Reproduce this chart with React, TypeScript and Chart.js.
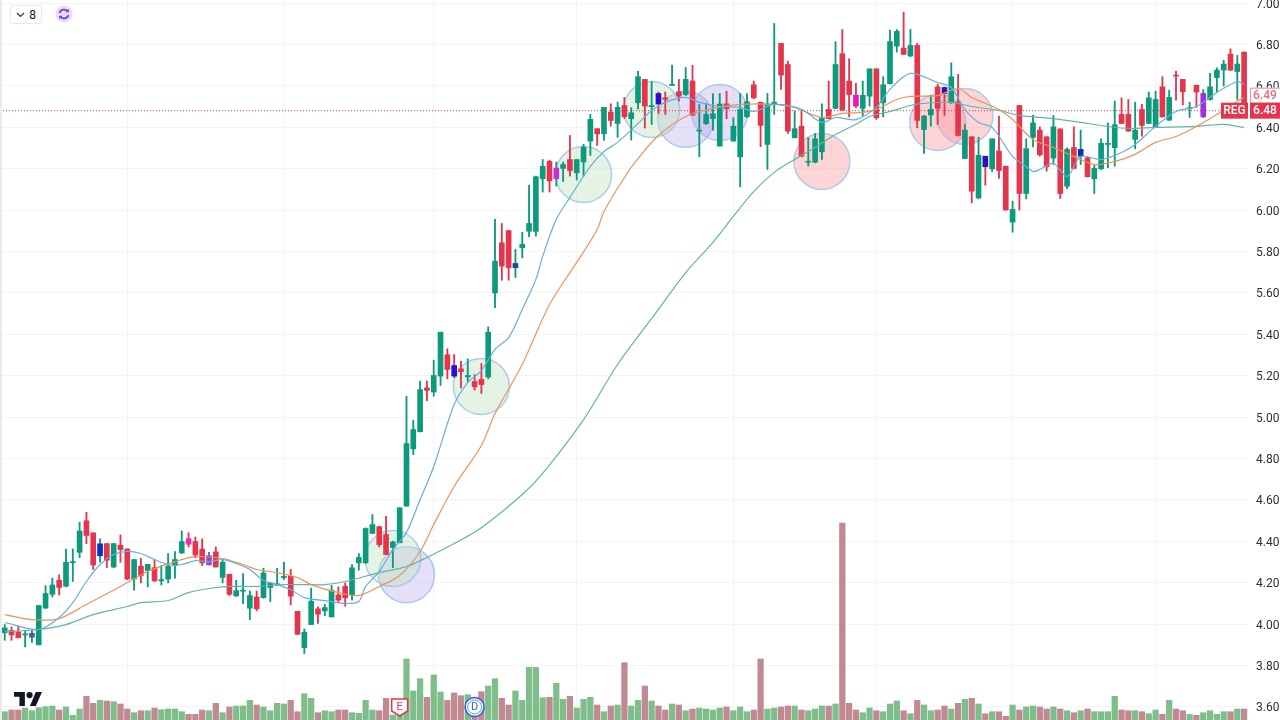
import React, { useEffect, useRef } from 'react';
import { Chart, registerables } from 'chart.js';

Chart.register(...registerables);

// Daily candles
const opens = [
  3.958, 3.970, 3.961, 3.948, 3.937, 3.900, 4.077, 4.144, 4.212, 4.183,
  4.297, 4.347, 4.499, 4.441, 4.330, 4.389, 4.276, 4.381, 4.363, 4.218,
  4.280, 4.259, 4.273, 4.209, 4.218, 4.283, 4.344, 4.413, 4.399, 4.362,
  4.286, 4.349, 4.226, 4.241, 4.136, 4.159, 4.077, 4.131, 4.128, 4.177,
  4.190, 4.225, 4.231, 4.062, 3.887, 3.998, 4.074, 4.064, 4.035, 4.141,
  4.183, 4.141, 4.296, 4.296, 4.438, 4.471, 4.433, 4.370, 4.393, 4.570,
  4.847, 4.929, 5.141, 5.121, 5.198, 5.301, 5.249, 5.233, 5.194, 5.172,
  5.182, 5.194, 5.600, 5.842, 5.901, 5.722, 5.818, 5.898, 5.897, 6.151,
  6.235, 6.151, 6.201, 6.244, 6.180, 6.232, 6.333, 6.393, 6.368, 6.473,
  6.418, 6.505, 6.441, 6.518, 6.631, 6.499, 6.563, 6.542, 6.602, 6.571,
  6.558, 6.623, 6.381, 6.417, 6.442, 6.309, 6.513, 6.333, 6.257, 6.451,
  6.605, 6.521, 6.317, 6.510, 6.805, 6.703, 6.349, 6.405, 6.231, 6.231,
  6.281, 6.486, 6.491, 6.755, 6.623, 6.554, 6.491, 6.550, 6.682, 6.518,
  6.610, 6.792, 6.782, 6.744, 6.795, 6.389, 6.459, 6.595, 6.592, 6.518,
  6.521, 6.249, 6.354, 6.058, 6.260, 6.199, 6.285, 6.212, 5.942, 6.505,
  6.080, 6.351, 6.386, 6.354, 6.251, 6.392, 6.115, 6.302, 6.260, 6.252,
  6.151, 6.199, 6.317, 6.301, 6.462, 6.462, 6.341, 6.486, 6.418, 6.402,
  6.595, 6.434, 6.650, 6.631, 6.489, 6.603, 6.450, 6.534, 6.640, 6.676,
  6.753, 6.669, 6.763,
];
const closes = [
  3.982, 3.948, 3.935, 3.953, 3.956, 4.090, 4.148, 4.189, 4.177, 4.299,
  4.302, 4.450, 4.428, 4.286, 4.388, 4.309, 4.389, 4.360, 4.218, 4.312,
  4.235, 4.289, 4.209, 4.215, 4.280, 4.312, 4.399, 4.386, 4.334, 4.296,
  4.331, 4.276, 4.299, 4.144, 4.162, 4.164, 4.138, 4.074, 4.247, 4.199,
  4.193, 4.231, 4.135, 3.951, 3.961, 4.111, 4.048, 4.080, 4.164, 4.116,
  4.127, 4.272, 4.322, 4.462, 4.481, 4.384, 4.336, 4.397, 4.562, 4.872,
  4.940, 5.133, 5.129, 5.201, 5.410, 5.230, 5.198, 5.220, 5.201, 5.146,
  5.157, 5.410, 5.753, 5.729, 5.721, 5.742, 5.834, 5.935, 6.161, 6.211,
  6.141, 6.203, 6.220, 6.191, 6.244, 6.304, 6.438, 6.368, 6.496, 6.433,
  6.496, 6.451, 6.470, 6.644, 6.502, 6.505, 6.512, 6.534, 6.607, 6.550,
  6.631, 6.458, 6.386, 6.462, 6.465, 6.512, 6.489, 6.405, 6.486, 6.523,
  6.542, 6.409, 6.513, 6.521, 6.652, 6.381, 6.393, 6.260, 6.235, 6.344,
  6.446, 6.441, 6.703, 6.483, 6.558, 6.502, 6.554, 6.682, 6.446, 6.605,
  6.814, 6.863, 6.752, 6.795, 6.433, 6.454, 6.486, 6.491, 6.562, 6.644,
  6.360, 6.386, 6.091, 6.264, 6.209, 6.344, 6.191, 6.000, 6.003, 6.080,
  6.296, 6.421, 6.267, 6.209, 6.402, 6.080, 6.293, 6.201, 6.293, 6.161,
  6.201, 6.322, 6.322, 6.412, 6.418, 6.381, 6.386, 6.409, 6.542, 6.534,
  6.450, 6.544, 6.647, 6.571, 6.494, 6.570, 6.563, 6.595, 6.676, 6.705,
  6.676, 6.705, 6.480,
];
const highs = [
  3.998, 3.987, 3.990, 3.966, 3.970, 4.090, 4.186, 4.222, 4.238, 4.363,
  4.363, 4.492, 4.540, 4.441, 4.412, 4.389, 4.389, 4.431, 4.363, 4.312,
  4.318, 4.289, 4.309, 4.283, 4.341, 4.350, 4.450, 4.441, 4.421, 4.412,
  4.347, 4.373, 4.312, 4.241, 4.212, 4.244, 4.160, 4.160, 4.270, 4.199,
  4.270, 4.299, 4.264, 4.062, 3.977, 4.174, 4.083, 4.096, 4.187, 4.180,
  4.199, 4.288, 4.341, 4.465, 4.529, 4.473, 4.521, 4.401, 4.562, 5.101,
  4.985, 5.174, 5.174, 5.275, 5.410, 5.330, 5.302, 5.270, 5.281, 5.206,
  5.259, 5.436, 5.955, 5.935, 5.901, 5.810, 5.893, 6.120, 6.164, 6.244,
  6.241, 6.232, 6.232, 6.360, 6.244, 6.318, 6.462, 6.393, 6.496, 6.513,
  6.521, 6.544, 6.494, 6.670, 6.631, 6.621, 6.570, 6.570, 6.700, 6.631,
  6.689, 6.699, 6.510, 6.515, 6.563, 6.563, 6.574, 6.446, 6.563, 6.563,
  6.623, 6.521, 6.563, 6.901, 6.805, 6.719, 6.478, 6.486, 6.349, 6.370,
  6.513, 6.623, 6.813, 6.872, 6.731, 6.612, 6.623, 6.682, 6.682, 6.644,
  6.869, 6.872, 6.956, 6.872, 6.805, 6.457, 6.554, 6.607, 6.595, 6.711,
  6.655, 6.413, 6.354, 6.352, 6.260, 6.344, 6.454, 6.212, 6.043, 6.505,
  6.344, 6.457, 6.402, 6.354, 6.457, 6.392, 6.301, 6.402, 6.386, 6.256,
  6.215, 6.344, 6.421, 6.526, 6.542, 6.534, 6.521, 6.510, 6.570, 6.574,
  6.644, 6.579, 6.671, 6.631, 6.521, 6.603, 6.582, 6.660, 6.687, 6.724,
  6.779, 6.747, 6.763,
];
const lows = [
  3.922, 3.922, 3.933, 3.890, 3.912, 3.900, 4.077, 4.131, 4.141, 4.180,
  4.206, 4.321, 4.389, 4.264, 4.299, 4.273, 4.273, 4.299, 4.215, 4.164,
  4.199, 4.180, 4.206, 4.189, 4.199, 4.222, 4.341, 4.373, 4.321, 4.283,
  4.286, 4.276, 4.199, 4.138, 4.135, 4.099, 4.022, 4.064, 4.125, 4.109,
  4.186, 4.215, 4.093, 3.950, 3.858, 3.998, 4.003, 4.041, 4.035, 4.103,
  4.087, 4.116, 4.261, 4.293, 4.438, 4.373, 4.336, 4.273, 4.393, 4.570,
  4.819, 4.929, 5.079, 5.101, 5.153, 5.185, 5.190, 5.141, 5.169, 5.130,
  5.114, 5.185, 5.529, 5.661, 5.661, 5.674, 5.769, 5.871, 5.874, 6.087,
  6.087, 6.116, 6.138, 6.164, 6.145, 6.164, 6.264, 6.312, 6.338, 6.405,
  6.351, 6.441, 6.338, 6.489, 6.396, 6.413, 6.466, 6.462, 6.602, 6.526,
  6.553, 6.458, 6.257, 6.413, 6.386, 6.309, 6.441, 6.333, 6.112, 6.446,
  6.537, 6.306, 6.196, 6.462, 6.583, 6.370, 6.349, 6.257, 6.212, 6.228,
  6.244, 6.441, 6.489, 6.481, 6.450, 6.494, 6.454, 6.502, 6.438, 6.450,
  6.608, 6.763, 6.750, 6.740, 6.397, 6.273, 6.405, 6.413, 6.457, 6.515,
  6.357, 6.249, 6.035, 6.054, 6.120, 6.186, 6.153, 6.000, 5.893, 6.000,
  6.054, 6.305, 6.260, 6.188, 6.220, 6.056, 6.103, 6.199, 6.220, 6.159,
  6.080, 6.196, 6.204, 6.212, 6.418, 6.380, 6.296, 6.357, 6.417, 6.399,
  6.449, 6.433, 6.531, 6.508, 6.447, 6.496, 6.447, 6.531, 6.571, 6.599,
  6.673, 6.534, 6.480,
];

const volumes = [
  8.3, 10, 10, 12, 9.3, 12.3, 13.3, 14, 10, 13, 4.7, 11, 23.7, 16.7, 19.7, 19,
  18.3, 16, 11, 7.3, 9.3, 9.3, 12, 10.3, 11, 11, 8.3, 5.7, 5.7, 10, 9.3, 16.7,
  7.3, 13, 14, 14, 19.7, 15, 13, 9.3, 16.7, 16, 19.7, 8.3, 26.3, 21.7, 7.3,
  9.3, 8.3, 10, 10, 7.3, 6.7, 19.7, 10, 9.3, 21.7, 5, 15, 61, 29, 41.3, 22.7,
  45, 28, 19.7, 27, 24.3, 25.3, 15.7, 28.3, 34, 41.3, 21.7, 15, 29, 19.7, 52.7,
  52.7, 22.3, 22.7, 36.7, 20.7, 23.7, 12, 20.7, 22.7, 15, 8.3, 14, 15, 57.3, 14, 19.7,
  34, 19, 14, 10, 16, 15, 9.3, 11, 12, 11, 10, 12, 13, 9.3, 13, 8.3, 10, 61,
  11, 12, 13, 14, 14, 10, 9.3, 11, 14, 14, 16, 197, 16.7, 10, 7.3, 12, 9.3, 8.3,
  16, 19, 9.3, 6.3, 19.7, 15, 9.3, 10, 14, 11, 16.7,
  20.7, 21.7, 16, 6.3, 8.3, 8.3, 3.7, 15, 10, 13, 14, 13, 11, 13, 11, 9.3, 7.3,
  9.3, 11, 8.3, 8.3, 8.3, 23.7, 10, 9.3, 9.3, 8.3, 6.3, 10, 5.7, 19.7, 11, 9.3,
  5.7, 4.7, 7.3, 9.3, 5.7, 8.3, 8.3, 11, 11,
];

// Moving averages: [candle, value]
const fastMa = [
  [0, 4.008], [5, 3.974], [8, 4.032], [10, 4.104], [12, 4.206], [14, 4.288], [16, 4.336], [18, 4.351],
  [20, 4.341], [22, 4.312], [24, 4.288], [26, 4.288], [28, 4.307], [30, 4.302], [32, 4.312], [34, 4.293],
  [36, 4.264], [38, 4.211], [40, 4.191], [42, 4.167], [44, 4.128], [47, 4.114], [50, 4.100], [52, 4.109],
  [53, 4.182], [55, 4.254], [57, 4.360], [59, 4.443], [61, 4.602], [63, 4.761], [66, 5.061], [68, 5.167],
  [70, 5.225], [72, 5.327], [74, 5.384], [76, 5.520], [78, 5.665], [79, 5.776], [81, 5.955], [83, 6.061],
  [86, 6.211], [88, 6.283], [90, 6.327], [93, 6.418], [95, 6.481], [97, 6.520], [100, 6.544], [102, 6.520],
  [105, 6.500], [108, 6.496], [110, 6.476], [113, 6.510], [117, 6.486], [120, 6.423], [122, 6.447], [125, 6.437],
  [128, 6.496], [130, 6.583], [133, 6.660], [137, 6.616], [139, 6.592], [141, 6.486], [143, 6.423], [145, 6.399],
  [148, 6.259], [150, 6.210], [151, 6.186], [152, 6.196], [154, 6.225], [156, 6.162], [158, 6.259], [161, 6.244],
  [164, 6.278], [166, 6.317], [169, 6.404], [172, 6.476], [175, 6.500], [178, 6.568], [181, 6.621], [182, 6.607],
];
const midMa = [
  [0, 4.046], [4, 4.022], [8, 4.027], [12, 4.095], [17, 4.182], [21, 4.254], [25, 4.302], [28, 4.326],
  [32, 4.317], [35, 4.288], [37, 4.264], [40, 4.249], [43, 4.225], [45, 4.191], [49, 4.152], [52, 4.138],
  [55, 4.182], [58, 4.235], [61, 4.351], [63, 4.481], [66, 4.665], [70, 4.863], [72, 5.017], [76, 5.254],
  [80, 5.544], [84, 5.747], [87, 5.906], [88, 5.993], [91, 6.157], [93, 6.249], [96, 6.360], [100, 6.452],
  [104, 6.491], [108, 6.510], [113, 6.510], [116, 6.496], [120, 6.447], [123, 6.467], [126, 6.472], [128, 6.486],
  [131, 6.534], [133, 6.549], [137, 6.553], [140, 6.587], [142, 6.544], [146, 6.486], [148, 6.437], [151, 6.341],
  [154, 6.302], [157, 6.259], [160, 6.220], [163, 6.235], [166, 6.269], [169, 6.327], [172, 6.355], [175, 6.404],
  [178, 6.462], [181, 6.525], [182, 6.544],
];
const slowMa = [
  [0, 3.964], [5, 3.974], [9, 3.998], [13, 4.046], [18, 4.085], [20, 4.104], [24, 4.114], [27, 4.152],
  [30, 4.172], [33, 4.182], [37, 4.182], [41, 4.191], [44, 4.191], [47, 4.191], [50, 4.206], [55, 4.249],
  [59, 4.278], [62, 4.322], [66, 4.389], [70, 4.466], [76, 4.626], [79, 4.728], [85, 4.988], [90, 5.254],
  [96, 5.520], [100, 5.698], [104, 5.844], [107, 5.969], [110, 6.090], [113, 6.182], [116, 6.244], [119, 6.302],
  [122, 6.365], [125, 6.414], [127, 6.452], [130, 6.476], [133, 6.505], [135, 6.515], [139, 6.520], [142, 6.500],
  [146, 6.481], [149, 6.457], [154, 6.442], [158, 6.423], [162, 6.404], [165, 6.394], [169, 6.399], [175, 6.404],
  [179, 6.414], [182, 6.399],
];

// Signal circles: [candle, price]
const greenSignals = [[57, 4.317], [70, 5.148], [85, 6.172], [95, 6.486]];
const purpleSignals = [[59, 4.239], [100, 6.438], [105, 6.471]];
const redSignals = [[120, 6.235], [137, 6.423], [141, 6.452]];

const priceTicks = [3.6, 3.8, 4.0, 4.2, 4.4, 4.6, 4.8, 5.0, 5.2, 5.4, 5.6, 5.8, 6.0, 6.2, 6.4, 6.6, 6.8, 7.0];
const monthStarts = [18, 41, 63, 84, 107, 128, 148, 169];
const lastPrice = 6.48;
const sessionPrice = 6.49;
const earningsCandle = 58;
const dividendCandle = 69;

const UP = '#0d9a7c';
const DOWN = '#e4354e';
const UP_VOL = '#7fbd8b';
const DOWN_VOL = '#bf8a92';
const FONT = 'Roboto, "Liberation Sans", sans-serif';

// candles repainted by the script on the original chart
const paintedCandles: Record<number, string> = {
  4: '#4a5ca8', 14: '#0b2ec8', 27: '#e92fa2', 30: '#a23fd2', 66: '#2a10d8', 75: '#1a4a9c',
  81: '#c030e0', 96: '#2a10c4', 125: '#f012c0', 138: '#3010c4', 144: '#3010bc', 158: '#0a30c0', 176: '#a030d8',
};

const isUp = (i: number) => closes[i] >= opens[i];
const toPoints = (list: number[][]) => list.map(([x, y]) => ({ x, y }));

// the plot runs to the canvas edges, so no room is kept for the outer tick labels
const dropPadding = (axis: any) => {
  axis.paddingTop = 0;
  axis.paddingBottom = 0;
  axis.paddingLeft = 0;
  axis.paddingRight = 0;
};

const overlays = {
  id: 'overlays',
  afterDraw(chart: any) {
    const { ctx, scales } = chart;
    const y = scales.y.getPixelForValue(lastPrice);
    const box = (x: number, top: number, w: number, h: number, fill: string, text: string, color: string) => {
      ctx.fillStyle = fill;
      ctx.fillRect(x, top, w, h);
      ctx.fillStyle = color;
      ctx.font = `500 12px ${FONT}`;
      ctx.textAlign = 'center';
      ctx.textBaseline = 'middle';
      ctx.fillText(text, x + w / 2, top + h / 2 + 0.5);
    };
    ctx.save();
    // session price tag sits right above the last price tag
    box(1250, y - 23, 30, 15, '#ffffff', sessionPrice.toFixed(2), '#e0707f');
    ctx.strokeStyle = '#e88a96';
    ctx.lineWidth = 1;
    ctx.strokeRect(1250.5, y - 22.5, 30, 15);
    box(1221, y - 8, 27, 16, DOWN, 'REG', '#ffffff');
    box(1250, y - 8, 30, 16, DOWN, lastPrice.toFixed(2), '#ffffff');

    // earnings flag
    const ex = scales.x.getPixelForValue(earningsCandle);
    ctx.beginPath();
    ctx.moveTo(ex - 8, 699);
    ctx.lineTo(ex + 8, 699);
    ctx.lineTo(ex + 8, 711);
    ctx.lineTo(ex, 716);
    ctx.lineTo(ex - 8, 711);
    ctx.closePath();
    ctx.fillStyle = '#ffffff';
    ctx.fill();
    ctx.strokeStyle = DOWN;
    ctx.lineWidth = 1.5;
    ctx.stroke();
    ctx.fillStyle = DOWN;
    ctx.font = `11px ${FONT}`;
    ctx.textAlign = 'center';
    ctx.textBaseline = 'middle';
    ctx.fillText('E', ex, 707);

    // dividend badge
    const dx = scales.x.getPixelForValue(dividendCandle);
    ctx.beginPath();
    ctx.arc(dx, 707, 9.5, 0, Math.PI * 2);
    ctx.fillStyle = '#ffffff';
    ctx.fill();
    ctx.strokeStyle = '#2f62dc';
    ctx.lineWidth = 1.6;
    ctx.stroke();
    ctx.beginPath();
    ctx.arc(dx, 707, 7, 0, Math.PI * 2);
    ctx.lineWidth = 0.7;
    ctx.stroke();
    ctx.fillStyle = '#2f62dc';
    ctx.fillText('D', dx, 707.5);
    ctx.restore();
  },
};

const App: React.FC = () => {
  const canvasRef = useRef<HTMLCanvasElement>(null);

  useEffect(() => {
    if (!canvasRef.current) return;
    const days = opens.map((_, i) => i);

    const signalSet = (list: number[][], fill: string) => ({
      type: 'bubble' as const,
      data: toPoints(list),
      radius: 28,
      backgroundColor: fill,
      borderColor: 'rgba(150,190,235,0.75)',
      borderWidth: 1.5,
      order: 6,
    });
    const maSet = (list: number[][], color: string) => ({
      type: 'line' as const,
      data: toPoints(list),
      borderColor: color,
      borderWidth: 1.2,
      pointRadius: 0,
      tension: 0.3,
      order: 1,
    });

    const chart = new Chart(canvasRef.current, {
      type: 'bar',
      data: {
        datasets: [
          signalSet(greenSignals, 'rgba(190,225,190,0.4)'),
          signalSet(purpleSignals, 'rgba(170,150,230,0.3)'),
          signalSet(redSignals, 'rgba(250,150,155,0.4)'),
          maSet(fastMa, '#68aedd'),
          maSet(midMa, '#e8945e'),
          maSet(slowMa, '#62b5a6'),
          {
            // bodies
            data: days.map(i => ({ x: i, y: [opens[i], closes[i]] })),
            backgroundColor: days.map(i => paintedCandles[i] || (isUp(i) ? UP : DOWN)),
            barThickness: 5,
            grouped: false,
            minBarLength: 1,
            order: 2,
          },
          {
            // wicks
            data: days.map(i => ({ x: i, y: [lows[i], highs[i]] })),
            backgroundColor: days.map(i => (isUp(i) ? UP : DOWN)),
            barThickness: 1.2,
            grouped: false,
            order: 3,
          },
          {
            type: 'line' as const,
            data: [{ x: -0.69, y: lastPrice }, { x: days.length - 1, y: lastPrice }],
            borderColor: DOWN,
            borderWidth: 1,
            borderDash: [1, 2],
            pointRadius: 0,
            order: 4,
          },
          {
            data: days.map(i => ({ x: i, y: volumes[i] })),
            backgroundColor: days.map(i => (isUp(i) ? UP_VOL : DOWN_VOL)),
            barThickness: 5.6,
            grouped: false,
            yAxisID: 'volume',
            order: 5,
          },
        ] as any,
      },
      options: {
        responsive: false,
        animation: false,
        layout: { padding: 0, autoPadding: false },
        plugins: { legend: { display: false }, tooltip: { enabled: false } },
        scales: {
          x: {
            type: 'linear',
            min: -0.69,
            max: 182.57,
            offset: false,
            afterBuildTicks: (axis: any) => {
              axis.ticks = monthStarts.map(value => ({ value }));
            },
            afterFit: (axis: any) => {
              axis.height = 0;
              dropPadding(axis);
            },
            grid: { color: '#f3f4f6', offset: false, drawTicks: false },
            border: { display: false },
            ticks: { display: false, autoSkip: false },
          },
          y: {
            position: 'right',
            min: 3.537,
            max: 7.0145,
            afterBuildTicks: (axis: any) => {
              axis.ticks = priceTicks.map(value => ({ value }));
            },
            afterFit: (axis: any) => {
              axis.width = 32;
              dropPadding(axis);
            },
            grid: { color: '#f3f4f6', drawTicks: false },
            border: { display: false },
            ticks: {
              autoSkip: false,
              padding: 8,
              labelOffset: 1.5,
              color: '#2a2e39',
              font: { family: FONT, size: 12 },
              callback: (value: any) => Number(value).toFixed(2),
            },
          },
          volume: { display: false, min: 0, max: 720 },
        },
      },
      plugins: [overlays],
    });

    return () => chart.destroy();
  }, []);

  return (
    <div style={{ position: 'fixed', left: 0, top: 0, width: 1280, height: 720, background: '#fff', overflow: 'hidden' }}>
      <canvas ref={canvasRef} width={1280} height={720} style={{ position: 'absolute', left: 0, top: 0 }} />
      <div style={{ position: 'absolute', left: 0, top: 0, width: 2, height: 720, background: '#e9eaec' }} />

      {/* interval box and refresh button */}
      <div
        style={{
          position: 'absolute', left: 10, top: 5, width: 30, height: 17, border: '1px solid #e6e8ec', borderRadius: 3,
          display: 'flex', alignItems: 'center', justifyContent: 'center', gap: 4,
          font: `12px ${FONT}`, color: '#131722', background: '#fff',
        }}
      >
        <svg width="9" height="6" viewBox="0 0 9 6">
          <path d="M1 1l3.5 3.5L8 1" fill="none" stroke="#333" strokeWidth="1.2" />
        </svg>
        <span>8</span>
      </div>
      <svg style={{ position: 'absolute', left: 55, top: 5 }} width="18" height="18" viewBox="0 0 18 18">
        <circle cx="9" cy="9" r="8.5" fill="#e7dcfb" />
        <path d="M4.5 8a4.7 4.7 0 0 1 8.3-1.5M13.5 10a4.7 4.7 0 0 1-8.3 1.5" fill="none" stroke="#7a3fd8" strokeWidth="1.7" />
        <path d="M13.8 3.8v3.4h-3.4zM4.2 14.2v-3.4h3.4z" fill="#7a3fd8" />
      </svg>

      {/* TradingView mark */}
      <svg style={{ position: 'absolute', left: 14, top: 692 }} width="28" height="14" viewBox="0 0 36 18">
        <path d="M14 18H7V6H0V0h14v18z" fill="#131722" />
        <circle cx="20" cy="4" r="4" fill="#131722" />
        <path d="M28 18h-7.5L28 0h8l-8 18z" fill="#131722" />
      </svg>
    </div>
  );
};

export default App;
